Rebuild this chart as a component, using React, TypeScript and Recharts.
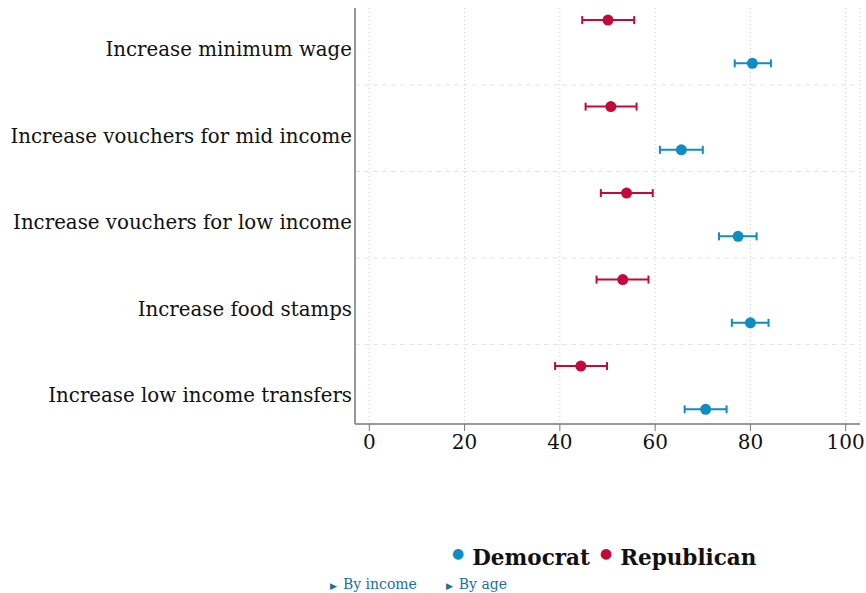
import React from 'react';
import {
  ScatterChart,
  Scatter,
  XAxis,
  YAxis,
  CartesianGrid,
  ErrorBar,
  ReferenceLine,
} from 'recharts';

const policies = [
  'Increase minimum wage',
  'Increase vouchers for mid income',
  'Increase vouchers for low income',
  'Increase food stamps',
  'Increase low income transfers',
];

const republicanMean = [50.1, 50.7, 54.0, 53.2, 44.4];
const republicanLow = [44.7, 45.4, 48.6, 47.7, 39.0];
const republicanHigh = [55.6, 56.1, 59.5, 58.6, 49.9];

const democratMean = [80.4, 65.5, 77.4, 80.0, 70.6];
const democratLow = [76.7, 61.0, 73.4, 76.1, 66.2];
const democratHigh = [84.3, 70.0, 81.3, 83.8, 75.0];

const xTicks = [0, 20, 40, 60, 80, 100];

const RED = '#c20a3a';
const BLUE = '#0f8cc2';
const SERIF = '"DejaVu Serif", "Liberation Serif", serif';

// each policy takes two rows: republican on top, democrat below
const buildRows = (mean: number[], low: number[], high: number[], offset: number) =>
  mean.map((m, i) => ({
    x: m,
    y: i * 2 + offset,
    err: [m - low[i], high[i] - m],
  }));

const republicanRows = buildRows(republicanMean, republicanLow, republicanHigh, 0);
const democratRows = buildRows(democratMean, democratLow, democratHigh, 1);

const labelTicks = policies.map((_, i) => i * 2 + 0.67);
const separators = policies.slice(1).map((_, i) => i * 2 + 1.5);

const PolicyTick = (props: any) => {
  const { x, y, payload } = props;
  const idx = Math.round((payload.value - 0.67) / 2);
  return (
    <text
      x={x + 5}
      y={y}
      dy={7}
      textAnchor="end"
      fontFamily={SERIF}
      fontSize={19.8}
      fill="#111"
    >
      {policies[idx]}
    </text>
  );
};

const Dot = (color: string) => (props: any) => (
  <circle cx={props.cx} cy={props.cy} r={5.5} fill={color} />
);

export default function App() {
  return (
    <div style={{ position: 'absolute', left: 0, top: 0, width: 866, height: 593, background: '#fff' }}>
      <ScatterChart
        width={866}
        height={593}
        margin={{ top: 8, right: 6, bottom: 129, left: 5 }}
      >
        <CartesianGrid
          horizontal={false}
          stroke="#cfcfcf"
          strokeDasharray="1 3"
        />
        {separators.map((s) => (
          <ReferenceLine key={s} y={s} stroke="#e4e4e4" strokeDasharray="5 4" />
        ))}
        <XAxis
          type="number"
          dataKey="x"
          domain={[-3, 103]}
          ticks={xTicks}
          height={40}
          axisLine={{ stroke: '#777', strokeWidth: 1.5 }}
          tickLine={{ stroke: '#777' }}
          tickSize={7}
          tick={{ fontFamily: SERIF, fontSize: 20, fill: '#111' }}
          tickMargin={4}
        />
        <YAxis
          type="number"
          dataKey="y"
          domain={[-0.28, 9.34]}
          reversed
          ticks={labelTicks}
          width={350}
          axisLine={{ stroke: '#777', strokeWidth: 1.5 }}
          tickLine={false}
          tick={<PolicyTick />}
        />
        <Scatter data={republicanRows} fill={RED} shape={Dot(RED)} isAnimationActive={false}>
          <ErrorBar dataKey="err" direction="x" stroke={RED} strokeWidth={2} width={4} />
        </Scatter>
        <Scatter data={democratRows} fill={BLUE} shape={Dot(BLUE)} isAnimationActive={false}>
          <ErrorBar dataKey="err" direction="x" stroke={BLUE} strokeWidth={2} width={4} />
        </Scatter>
      </ScatterChart>
      <div
        style={{
          position: 'absolute',
          left: 452,
          top: 545,
          fontFamily: SERIF,
          fontWeight: 'bold',
          fontSize: 21.5,
          color: '#111',
          whiteSpace: 'nowrap',
        }}
      >
        <span style={{ color: BLUE, fontSize: 14, verticalAlign: 'top', marginRight: 8 }}>●</span>
        Democrat
        <span style={{ color: RED, fontSize: 14, verticalAlign: 'top', marginLeft: 10, marginRight: 8 }}>●</span>
        Republican
      </div>
      <div
        style={{
          position: 'absolute',
          left: 330,
          top: 576,
          fontFamily: SERIF,
          fontSize: 14,
          color: '#1a6fa8',
          whiteSpace: 'nowrap',
        }}
      >
        <span style={{ fontSize: 9, marginRight: 6 }}>▶</span>By income
        <span style={{ fontSize: 9, marginLeft: 29, marginRight: 6 }}>▶</span>By age
      </div>
    </div>
  );
}
